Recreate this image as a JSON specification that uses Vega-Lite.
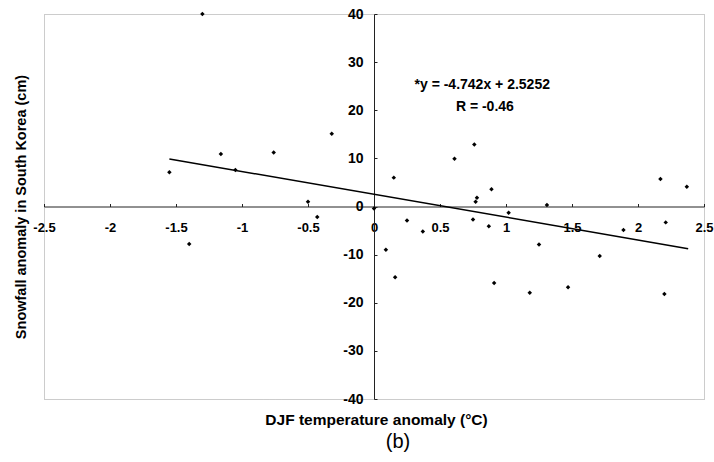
{
  "$schema": "https://vega.github.io/schema/vega-lite/v6.json",
  "width": 660,
  "height": 385,
  "autosize": "none",
  "padding": {"left": 44, "top": 14, "right": 10, "bottom": 63},
  "background": "white",
  "config": {
    "view": {"stroke": "#999999", "strokeDash": [1, 1], "strokeWidth": 1},
    "font": "Liberation Sans"
  },
  "title": {"text": "(b)", "orient": "bottom", "fontSize": 20, "fontWeight": "normal", "font": "Liberation Sans", "offset": 4, "dx": 24, "color": "black"},
  "layer": [
    {
      "data": {"values": [
        {"x": -1.55, "y": 7.1}, {"x": -1.40, "y": -7.8}, {"x": -1.30, "y": 40},
        {"x": -1.16, "y": 10.9}, {"x": -1.05, "y": 7.6}, {"x": -0.76, "y": 11.2},
        {"x": -0.50, "y": 1.0}, {"x": -0.43, "y": -2.2}, {"x": -0.32, "y": 15.1},
        {"x": 0.00, "y": -0.4}, {"x": 0.09, "y": -9.0}, {"x": 0.15, "y": 6.0},
        {"x": 0.16, "y": -14.7}, {"x": 0.25, "y": -2.9}, {"x": 0.37, "y": -5.2},
        {"x": 0.61, "y": 9.9}, {"x": 0.75, "y": -2.7}, {"x": 0.76, "y": 12.9},
        {"x": 0.77, "y": 1.0}, {"x": 0.78, "y": 1.8}, {"x": 0.87, "y": -4.1},
        {"x": 0.89, "y": 3.6}, {"x": 0.91, "y": -15.9}, {"x": 1.02, "y": -1.3},
        {"x": 1.18, "y": -17.9}, {"x": 1.25, "y": -7.9}, {"x": 1.31, "y": 0.3},
        {"x": 1.47, "y": -16.8}, {"x": 1.71, "y": -10.3}, {"x": 1.89, "y": -4.9},
        {"x": 2.17, "y": 5.7}, {"x": 2.20, "y": -18.2}, {"x": 2.21, "y": -3.3},
        {"x": 2.37, "y": 4.1}
      ]},
      "mark": {"type": "point", "shape": "diamond", "filled": true, "color": "black", "size": 20, "opacity": 1},
      "encoding": {
        "x": {
          "field": "x", "type": "quantitative",
          "scale": {"domain": [-2.5, 2.5], "nice": false, "zero": false},
          "axis": {
            "orient": "bottom", "offset": -192.5,
            "values": [-2.5, -2, -1.5, -1, -0.5, 0, 0.5, 1, 1.5, 2, 2.5],
            "labelExpr": "'' + datum.value",
            "grid": false, "domainColor": "#222222", "tickColor": "#222222", "tickSize": -3,
            "labelFont": "Liberation Sans", "labelFontSize": 13, "labelFontWeight": "bold", "labelColor": "black",
            "labelPadding": 18, "labelFlush": false, "labelOverlap": false,
            "title": "DJF temperature anomaly (°C)",
            "titleFont": "Liberation Sans", "titleFontSize": 15.5, "titleFontWeight": "bold", "titleColor": "black",
            "titleX": 332, "titleY": 206, "titleBaseline": "top", "titleAlign": "center"
          }
        },
        "y": {
          "field": "y", "type": "quantitative",
          "scale": {"domain": [-40, 40], "nice": false, "zero": false},
          "axis": {
            "orient": "left", "offset": -330,
            "values": [-40, -30, -20, -10, 0, 10, 20, 30, 40],
            "labelExpr": "'' + datum.value",
            "grid": false, "domainColor": "#222222", "tickColor": "#222222", "tickSize": -3,
            "labelFont": "Liberation Sans", "labelFontSize": 14, "labelFontWeight": "bold", "labelColor": "black",
            "labelPadding": 14, "labelFlush": false, "labelOverlap": false,
            "title": "Snowfall anomaly in South Korea (cm)",
            "titleFont": "Liberation Sans", "titleFontSize": 14.5, "titleFontWeight": "bold", "titleColor": "black",
            "titleX": -353, "titleY": 192.5, "titleAngle": -90, "titleBaseline": "middle", "titleAlign": "center"
          }
        }
      }
    },
    {
      "data": {"values": [
        {"x": -1.55, "y": 9.875},
        {"x": 2.38, "y": -8.761}
      ]},
      "mark": {"type": "line", "color": "black", "strokeWidth": 1.5},
      "encoding": {
        "x": {"field": "x", "type": "quantitative"},
        "y": {"field": "y", "type": "quantitative"}
      }
    },
    {
      "data": {"values": [
        {"x": 0.82, "y": 25.3, "label": "*y = -4.742x + 2.5252"},
        {"x": 0.84, "y": 20.7, "label": "R = -0.46"}
      ]},
      "mark": {"type": "text", "font": "Liberation Sans", "fontSize": 14, "fontWeight": "bold", "color": "black", "align": "center", "baseline": "middle"},
      "encoding": {
        "x": {"field": "x", "type": "quantitative"},
        "y": {"field": "y", "type": "quantitative"},
        "text": {"field": "label"}
      }
    }
  ]
}
